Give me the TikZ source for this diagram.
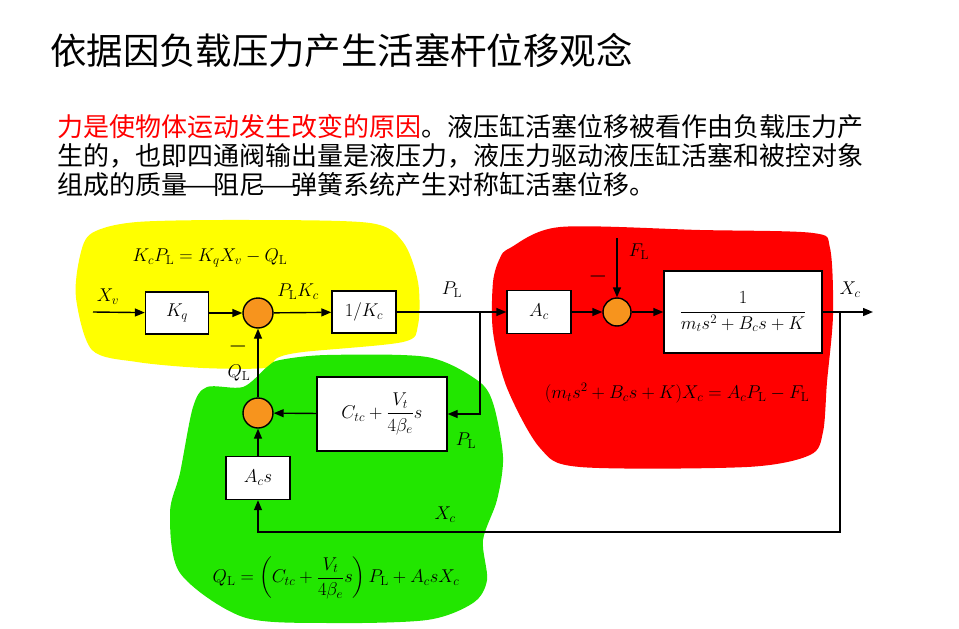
\RequirePackage{fix-cm}
\documentclass[tikz,border=0pt]{standalone}
\usepackage{amsmath}
\usepackage{fontspec}
\newfontfamily\cjk{Noto Sans CJK SC}
\usetikzlibrary{arrows.meta}
\definecolor{blobyellow}{RGB}{255,255,0}
\definecolor{blobred}{RGB}{255,0,0}
\definecolor{blobgreen}{RGB}{34,230,0}
\definecolor{sumorange}{RGB}{247,148,29}
\newcommand{\mathsize}{\fontsize{18.5}{22}\selectfont}
\newcommand{\PL}{P_{\mathrm{L}}}
\newcommand{\QL}{Q_{\mathrm{L}}}
\newcommand{\FL}{F_{\mathrm{L}}}
\newcommand{\cjkdash}{\makebox[1em]{\scalebox{1.7}[1]{—}}}
\tikzset{
  arr/.style={-{Triangle[length=10pt,width=8pt]}, line width=1.4pt},
  blk/.style={draw, line width=1.4pt, fill=white, inner sep=2pt, font=\mathsize},
  sumc/.style={draw, circle, line width=1.4pt, fill=sumorange,
               minimum size=30pt, inner sep=0pt},
  lbl/.style={font=\mathsize, inner sep=1pt},
  minuslbl/.style={font=\fontsize{24}{26}\selectfont, inner sep=0pt},
  cjkline/.style={anchor=west, inner sep=0pt, font=\cjk\fontsize{26}{30}\selectfont},
}

\begin{document}
\begin{tikzpicture}[x=1pt, y=-1pt,
                    arr/.style={-{Triangle[length=10pt,width=8pt]}, line width=1.4pt}]
\useasboundingbox (0,0) rectangle (959,629);

\fill[blobyellow] plot[smooth cycle] coordinates {(92,233) (137,222) (250,220) (370,223)
  (403,242) (418,282) (418,325) (403,342) (303,352) (277,358) (265,368) (203,368)
  (137,362) (92,350) (76,298) (80,256)};
\fill[blobgreen] plot[smooth cycle] coordinates {(280,360) (327,355) (427,357) (477,380)
  (493,403) (503,457) (497,500) (483,540) (487,580) (473,603) (427,620) (327,623)
  (243,617) (180,573) (170,513) (180,473) (193,407) (207,387) (243,387) (267,367)};
\fill[blobred] plot[smooth cycle] coordinates {(510,248) (560,227) (700,230) (813,233)
  (830,248) (833,315) (827,382) (823,432) (810,455) (747,467) (580,467) (540,448)
  (507,388) (493,332) (493,282) (500,258)};

\node[anchor=west, inner sep=0pt, font=\cjk\fontsize{36.4}{40}\selectfont] (title) at (50,50)
  {依据因负载压力产生活塞杆位移观念};
\node[cjkline] (line1) at (57,127)
  {\textcolor{red}{力是使物体运动发生改变的原因}。液压缸活塞位移被看作由负载压力产};
\node[cjkline] (line2) at (57,156)
  {生的，也即四通阀输出量是液压力，液压力驱动液压缸活塞和被控对象};
\node[cjkline] (line3) at (57,185)
  {组成的质量\cjkdash 阻尼\cjkdash 弹簧系统产生对称缸活塞位移。};

\node[blk, minimum width=63pt, minimum height=42pt]  (kq)   at (177,313) {$K_q$};
\node[sumc]                                          (sum1) at (258,313) {};
\node[blk, minimum width=64pt, minimum height=42pt]  (kc)   at (364,312) {$1/K_c$};
\node[blk, minimum width=64pt, minimum height=43pt]  (ac)   at (539,312) {$A_c$};
\node[sumc, minimum size=28pt]                       (sum2) at (617,312) {};
\node[blk, minimum width=158pt, minimum height=82pt] (mass) at (743,312)
  {$\dfrac{1}{m_ts^2+B_cs+K}$};
\node[sumc]                                          (sum3) at (258,413) {};
\node[blk, minimum width=130pt, minimum height=74pt] (ctc)  at (382,414)
  {$C_{tc}+\dfrac{V_t}{4\beta_e}s$};
\node[blk, minimum width=64pt, minimum height=43pt]  (acs)  at (258,478) {$A_cs$};

\coordinate (xvin) at (93,312);
\coordinate (flin) at (617,238);
\coordinate (xcout) at (873,312);
\coordinate (plb) at (480,312);
\coordinate (xcb) at (840,312);
\coordinate (xcbot) at (840,532);

\draw[arr] (xvin) -- (kq);
\draw[arr] (kq) -- (sum1);
\draw[arr] (sum1) -- (kc);
\draw[arr] (kc) -- (ac);
\draw[arr] (ac) -- (sum2);
\draw[arr] (flin) -- (sum2);
\draw[arr] (sum2) -- (mass);
\draw[arr] (mass) -- (xcout);
\draw[arr] (plb) |- (ctc.east);
\draw[arr] (ctc) -- (sum3);
\draw[arr] (xcb) -- (xcbot) -| (acs.south);
\draw[arr] (acs) -- (sum3);
\draw[arr] (sum3) -- (sum1);

\node[lbl] (xvlab)  at (108,297) {$X_v$};
\node[lbl] (pkclab) at (298,292) {$\PL K_c$};
\node[lbl] (pllab1) at (452,290) {$\PL$};
\node[lbl] (fllab)  at (639,252) {$\FL$};
\node[minuslbl] (minus2) at (598,276) {$-$};
\node[lbl] (xclab1) at (850,290) {$X_c$};
\node[minuslbl] (minus1) at (238,346) {$-$};
\node[lbl] (qllab)  at (239,373) {$\QL$};
\node[lbl] (pllab2) at (466,441) {$\PL$};
\node[lbl] (xclab2) at (445,515) {$X_c$};

\node[lbl] (eqy) at (210,258) {$K_c\PL = K_qX_v - \QL$};
\node[lbl] (eqr) at (677,393) {$(m_ts^2+B_cs+K)X_c = A_c\PL - \FL$};
\node[lbl] (eqg) at (336,578)
  {$\QL = \left(C_{tc}+\dfrac{V_t}{4\beta_e}s\right)\PL + A_csX_c$};
\end{tikzpicture}
\end{document}
